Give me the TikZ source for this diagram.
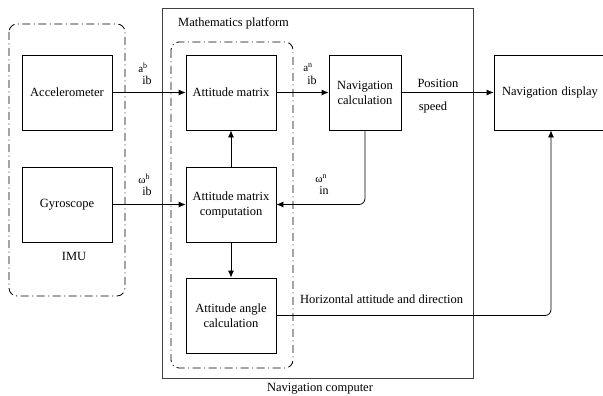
\documentclass[tikz,border=0pt]{standalone}
\usepackage{fontspec}
\setmainfont{Liberation Serif}
\usetikzlibrary{arrows.meta}
\newcommand{\sigstack}[3]{\shortstack[l]{#1\textsuperscript{\footnotesize #2}\\[1pt]\hspace*{4pt}\large #3}}
\begin{document}
\begin{tikzpicture}[x=1pt, y=-1pt,
        block/.style={rectangle, draw, line width=0.8pt, minimum width=90pt, minimum height=75pt, align=center, inner sep=2pt, font=\fontsize{12.5}{15}\selectfont},
        group/.style={draw, line width=0.8pt, rounded corners=8pt, dash pattern=on 8pt off 3.5pt on 1pt off 3.5pt},
        flow/.style={-{Latex[length=7pt,width=6pt]}, line width=0.8pt},
        sig_label/.style={font=\fontsize{11}{12}\selectfont, inner sep=0pt},
        plain_label/.style={font=\fontsize{12.5}{14}\selectfont, inner sep=0pt}
    ]
        \useasboundingbox (0,0) rectangle (603,396);

        % Frames: navigation computer, IMU, mathematics platform
        \draw[line width=1pt, black!75] (162,9) rectangle (473,378);
        \draw[group] (9,24) rectangle (125,296);
        \draw[group] (171,42) rectangle (293,368);
        \node[plain_label, anchor=west] (platform_title) at (178,23) {Mathematics platform};
        \node[plain_label] (computer_title) at (320,389) {Navigation computer};
        \node[plain_label] (imu_title) at (74,256) {IMU};

        % Blocks
        \node[block] (accel) at (67,92.5) {Accelerometer};
        \node[block] (gyro) at (67,204.5) {Gyroscope};
        \node[block] (att_matrix) at (231,92.5) {Attitude matrix};
        \node[block] (att_comp) at (231,204.5) {Attitude matrix\\computation};
        \node[block] (att_angle) at (231,315.5) {Attitude angle\\calculation};
        \node[block, minimum width=72pt] (nav_calc) at (365,92.5) {Navigation\\calculation};
        \node[block, minimum width=114pt, text width=98pt, align=left] (nav_display) at (551,92.5) {Navigation display};

        % Signals
        \draw[flow] (accel) -- (att_matrix);
        \node[sig_label] (acc_sig) at (145,74) {\sigstack{a}{b}{ib}};
        \draw[flow] (gyro) -- (att_comp);
        \node[sig_label] (gyro_sig) at (145,185) {\sigstack{ω}{b}{ib}};
        \draw[flow] (att_matrix) -- (nav_calc);
        \node[sig_label] (nav_sig) at (310,74) {\sigstack{a}{n}{ib}};
        \draw[flow] (att_comp) -- (att_matrix);
        \draw[flow] (att_comp) -- (att_angle);
        \draw[flow, rounded corners=6pt] (nav_calc.south) |- (att_comp.east);
        \node[sig_label] (rate_sig) at (322,185) {\sigstack{ω}{n}{in}};
        \draw[flow] (nav_calc) -- (nav_display);
        \node[plain_label] (pos_label) at (438,83) {Position};
        \node[plain_label] (speed_label) at (433,107) {speed};
        \draw[flow, rounded corners=6pt] (att_angle.east) -| (nav_display.south);
        \node[plain_label, anchor=west] (hor_label) at (300,299) {Horizontal attitude and direction};

    \end{tikzpicture}
\end{document}
